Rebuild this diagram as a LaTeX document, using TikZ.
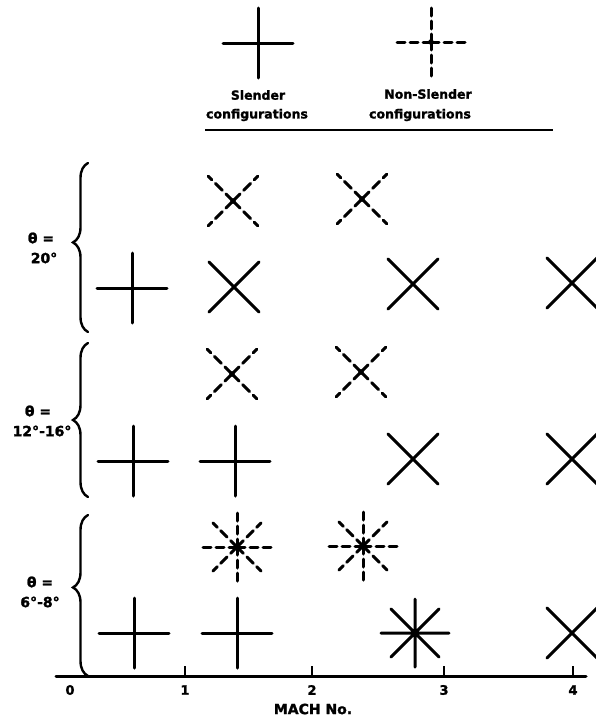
\documentclass[tikz,border=0pt]{standalone}
\usepackage{fontspec}
\setmainfont{DejaVu Sans}
\newfontfamily\heavy[FakeBold=1.6]{DejaVu Sans Bold}
\usetikzlibrary{decorations.pathreplacing}
\begin{document}
\begin{tikzpicture}[x=1pt,y=-1pt,
  sym/.style={line width=3pt, line cap=round, black},
  dsym/.style={sym, dash pattern=on 10pt off 5pt},
  bracestyle/.style={line width=2.4pt, line cap=round, decorate,
    decoration={brace, amplitude=15pt, raise=0pt, aspect=#1}},
  lbl/.style={font=\fontsize{12.5}{13}\selectfont\heavy, inner sep=0pt},
  thl/.style={font=\fontsize{14}{15}\selectfont\heavy, inner sep=0pt},
  tickl/.style={font=\fontsize{13}{14}\selectfont\heavy, inner sep=0pt},
  solidplus/.pic={\draw[sym] (-35,0)--(35,0) (0,-35)--(0,35);},
  solidx/.pic={\draw[sym] (-25,-25)--(25,25) (-25,25)--(25,-25);},
  solidstar/.pic={\draw[sym] (-34,0)--(34,0) (0,-34)--(0,34)
      (-24,-24)--(24,24) (-24,24)--(24,-24);},
  dashx/.pic={\foreach \a in {45,135,225,315} \draw[dsym] (0,0)--(\a:35);
      \fill (0,0) circle (2.8);},
  dashplus/.pic={\foreach \a in {0,90,180,270} \draw[dsym, dash pattern=on 8pt off 5pt] (0,0)--(\a:36);
      \fill (0,0) circle (2.8);},
  dashstar/.pic={\foreach \a in {0,90,180,270} \draw[dsym, dash pattern=on 8pt off 5pt] (0,0)--(\a:35);
      \foreach \a in {45,135,225,315} \draw[dsym, dash pattern=on 9pt off 5pt] (0,0)--(\a:34);
      \fill (0,0) circle (3.4);}
]
\useasboundingbox (0,0) rectangle (596,723);

% legend
\pic at (258,43) {solidplus};
\pic at (431,42) {dashplus};
\node[lbl] (sl1) at (258,95) {Slender};
\node[lbl] (sl2) at (257,115) {configurations};
\node[lbl] (ns1) at (428,94) {Non-Slender};
\node[lbl] (ns2) at (420,115) {configurations};
\coordinate (ulA) at (205,130);
\coordinate (ulB) at (553,130);
\draw[line width=2pt] (ulA) -- (ulB);

% braces
\coordinate (b1s) at (88,332); \coordinate (b1e) at (88,163);
\coordinate (b2s) at (88,497); \coordinate (b2e) at (88,343);
\coordinate (b3s) at (88,676); \coordinate (b3e) at (88,515);
\draw[bracestyle=0.53] (b1s) -- (b1e);
\draw[bracestyle=0.5] (b2s) -- (b2e);
\draw[bracestyle=0.55] (b3s) -- (b3e);

% theta labels
\node[thl] (t1a) at (41,238) {θ =};
\node[thl] (t1b) at (44,258) {20°};
\node[thl] (t2a) at (38,411) {θ =};
\node[thl] (t2b) at (42,431) {12°-16°};
\node[thl] (t3a) at (40,582) {θ =};
\node[thl] (t3b) at (40,602) {6°-8°};

% row 1
\pic at (233,201) {dashx};
\pic at (362,199) {dashx};
\pic at (132,288) {solidplus};
\pic at (234,287) {solidx};
\pic at (413,284) {solidx};
\pic at (572,283) {solidx};

% row 2
\pic at (232,374) {dashx};
\pic at (361,372) {dashx};
\pic at (133,461) {solidplus};
\pic at (235,461) {solidplus};
\pic at (413,459) {solidx};
\pic at (572,459) {solidx};

% row 3
\pic at (237,547) {dashstar};
\pic at (363,546) {dashstar};
\pic at (134,633) {solidplus};
\pic at (237,633) {solidplus};
\pic at (415,633) {solidstar};
\pic at (572,633) {solidx};

% axis
\coordinate (ax0) at (56,676);
\coordinate (ax1) at (586,676);
\draw[line width=3pt, line cap=round] (ax0) -- (ax1);
\foreach \xx/\lab in {185/1, 312/2, 444/3, 573/4} {
  \draw[line width=2.6pt] (\xx,676) -- (\xx,666);
  \node[tickl] (tk\lab) at (\xx,690) {\lab};
}
\node[tickl] (tk0) at (70,690) {0};
\node[font=\fontsize{14}{15}\selectfont\heavy, inner sep=0pt] (mach) at (313,709) {MACH No.};
\end{tikzpicture}
\end{document}
